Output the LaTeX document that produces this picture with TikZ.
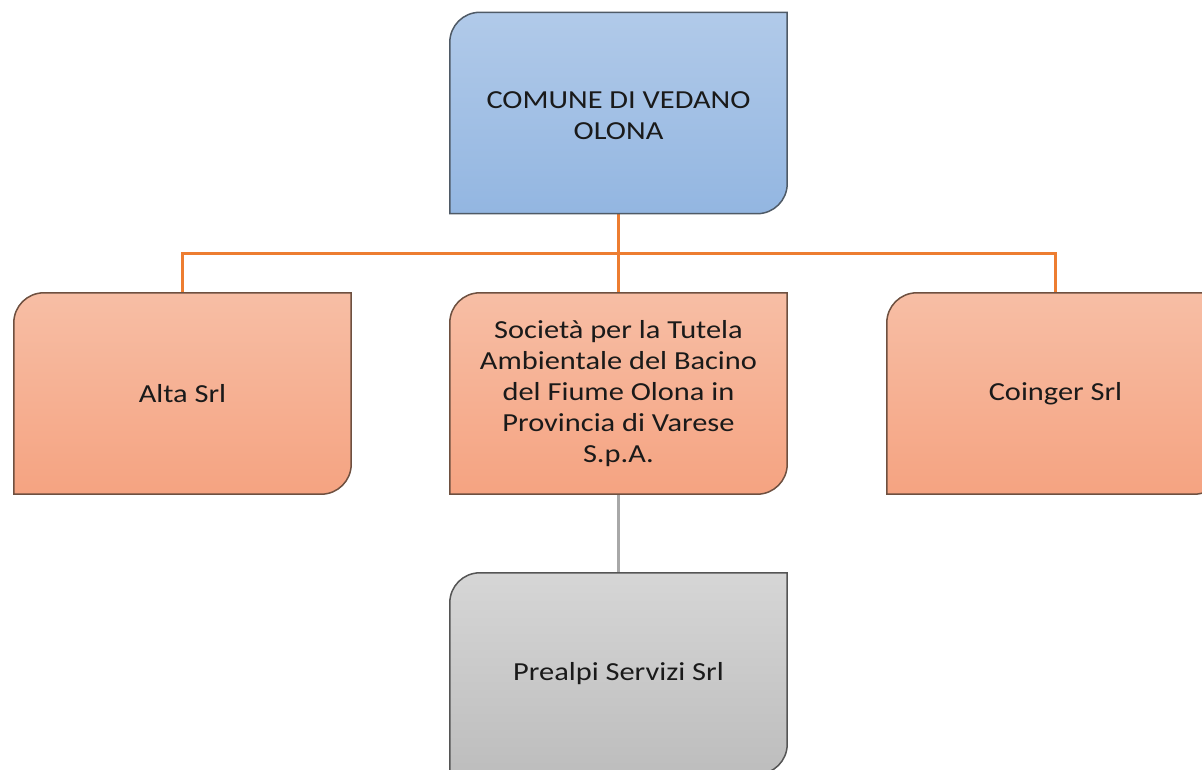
\documentclass[tikz,border=0pt]{standalone}
\usepackage{fontspec}
\setmainfont[FakeStretch=1.17]{Carlito}
\usetikzlibrary{calc}
\definecolor{bluetop}{HTML}{B1CAE9}
\definecolor{bluebot}{HTML}{93B6E1}
\definecolor{blueedge}{HTML}{4F5A66}
\definecolor{orgtop}{HTML}{F7BEA5}
\definecolor{orgbot}{HTML}{F5A381}
\definecolor{orgedge}{HTML}{6E5040}
\definecolor{graytop}{HTML}{D6D6D6}
\definecolor{graybot}{HTML}{BDBDBD}
\definecolor{grayedge}{HTML}{555555}
\definecolor{linkorange}{HTML}{ED7D31}
\definecolor{linkgray}{HTML}{A8A8A8}
\definecolor{txt}{HTML}{1A1A1A}
\tikzset{
  orgnode/.style={minimum width=337pt, minimum height=201pt, inner sep=0pt,
    align=center, text=txt, font=\fontsize{26}{31}\selectfont},
  orgline/.style={draw=linkorange, line width=3pt},
  grayline/.style={draw=linkgray, line width=3pt},
  boxedge/.style={line width=1.5pt},
}
\newcommand{\cornerbox}[4]{%
  \shadedraw[boxedge, draw=#2, top color=#3, bottom color=#4]
    (#1.south west) -- ([yshift=-30pt]#1.north west)
    arc[start angle=180, end angle=90, radius=30pt]
    -- (#1.north east) -- ([yshift=30pt]#1.south east)
    arc[start angle=0, end angle=-90, radius=30pt] -- cycle;}
\begin{document}
\begin{tikzpicture}[x=1pt,y=-1pt]
\useasboundingbox (0,0) rectangle (1202,769);
\clip (0,0) rectangle (1202,769);
% node placeholders
\path
  (618.5,113) node[orgnode] (top) {}
  (182.5,393.5) node[orgnode] (left) {}
  (618.5,393.5) node[orgnode] (mid) {}
  (1055.5,393.5) node[orgnode] (right) {}
  (618.5,673.5) node[orgnode] (gray) {};
% connectors
\coordinate (bus) at ($(top.south)!0.5!(mid.north)$);
\draw[orgline] (left.north) |- (bus) -| (right.north);
\draw[orgline] (top.south) -- (mid.north);
\draw[grayline] (mid.south) -- (gray.north);
% boxes
\cornerbox{top}{blueedge}{bluetop}{bluebot}
\cornerbox{left}{orgedge}{orgtop}{orgbot}
\cornerbox{mid}{orgedge}{orgtop}{orgbot}
\cornerbox{right}{orgedge}{orgtop}{orgbot}
\cornerbox{gray}{grayedge}{graytop}{graybot}
% texts
\node[orgnode, draw=none] at ([yshift=-3pt]top) {COMUNE DI VEDANO\\OLONA};
\node[orgnode, draw=none] at (left) {Alta Srl};
\node[orgnode, draw=none] at (mid) {Società per la Tutela\\Ambientale del Bacino\\del Fiume Olona in\\Provincia di Varese\\S.p.A.};
\node[orgnode, draw=none] at (right) {Coinger Srl};
\node[orgnode, draw=none] at (gray) {Prealpi Servizi Srl};
\end{tikzpicture}
\end{document}
